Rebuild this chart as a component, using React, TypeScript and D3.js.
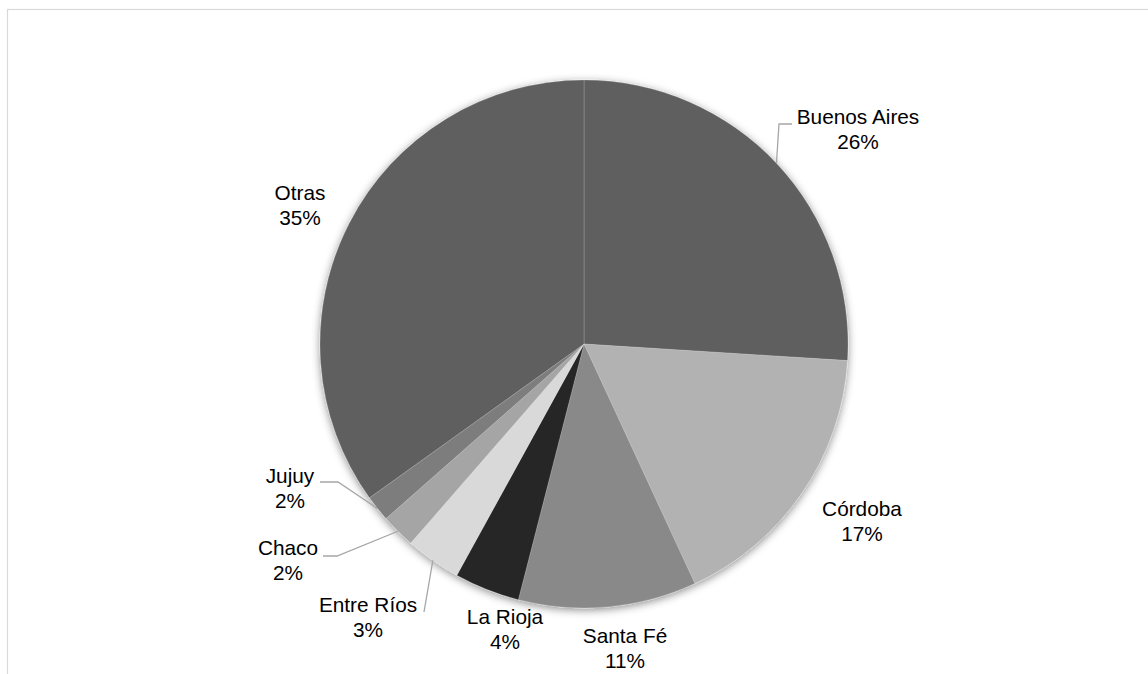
import React from "react";
import * as d3 from "d3";

// ---- data ----
const categories = ["Buenos Aires", "Córdoba", "Santa Fé", "La Rioja", "Entre Ríos", "Chaco", "Jujuy", "Otras"];
const shares = [26.0, 17.1, 10.9, 4.0, 3.4, 2.1, 1.6, 34.9];
const sliceColors = ["#5f5f5f", "#b2b2b2", "#898989", "#262626", "#d9d9d9", "#a5a5a5", "#7d7d7d", "#5f5f5f"];

// ---- layout (label anchor = center x, first baseline; leader = elbow points after slice edge) ----
const labelLayout: Record<string, { x: number; y: number; leader?: [number, number][] }> = {
  "Buenos Aires": { x: 858, y: 124, leader: [[779, 124], [792, 124]] },
  "Córdoba": { x: 862, y: 516 },
  "Santa Fé": { x: 625, y: 643 },
  "La Rioja": { x: 505, y: 624 },
  "Entre Ríos": { x: 368, y: 612, leader: [[424, 612]] },
  "Chaco": { x: 288, y: 555, leader: [[337, 556], [323, 556]] },
  "Jujuy": { x: 290, y: 483, leader: [[338, 482], [320, 482]] },
  "Otras": { x: 300, y: 200 },
};

const W = 1148;
const H = 674;
const cx = 584;
const cy = 344;
const R = 264;

export default function App() {
  const pie = d3
    .pie<number>()
    .sort(null)
    .value((d) => d);
  const arcs = pie(shares);
  const arcGen = d3.arc<d3.PieArcDatum<number>>().innerRadius(0).outerRadius(R);
  const font = "Arial, 'Liberation Sans', sans-serif";

  return (
    <svg
      width={W}
      height={H}
      style={{ position: "absolute", left: 0, top: 0, background: "#fff" }}
      xmlns="http://www.w3.org/2000/svg"
    >
      <defs>
        <filter id="pieShadow" x="-20%" y="-20%" width="140%" height="140%">
          <feDropShadow dx="0" dy="2" stdDeviation="4" floodColor="#000" floodOpacity="0.45" />
        </filter>
      </defs>
      <rect x={7.5} y={9.5} width={W + 20} height={H + 20} fill="#fff" stroke="#d9d9d9" strokeWidth={1.2} />
      <g transform={`translate(${cx},${cy})`} filter="url(#pieShadow)">
        {arcs.map((a, i) => (
          <path key={categories[i]} d={arcGen(a) || ""} fill={sliceColors[i]} stroke="rgba(255,255,255,0.22)" strokeWidth={0.8} />
        ))}
      </g>
      {arcs.map((a, i) => {
        const name = categories[i];
        const lay = labelLayout[name];
        const mid = (a.startAngle + a.endAngle) / 2;
        const ex = cx + R * Math.sin(mid);
        const ey = cy - R * Math.cos(mid);
        const pts: [number, number][] = lay.leader ? [[ex, ey], ...lay.leader] : [];
        return (
          <g key={name}>
            {lay.leader && (
              <path d={d3.line()(pts) || ""} fill="none" stroke="#a6a6a6" strokeWidth={1.3} />
            )}
            <text x={lay.x} y={lay.y} textAnchor="middle" fontFamily={font} fontSize={20.8} fill="#000">
              <tspan x={lay.x} y={lay.y}>{name}</tspan>
              <tspan x={lay.x} y={lay.y + 24.5}>{`${Math.round(shares[i])}%`}</tspan>
            </text>
          </g>
        );
      })}
    </svg>
  );
}
